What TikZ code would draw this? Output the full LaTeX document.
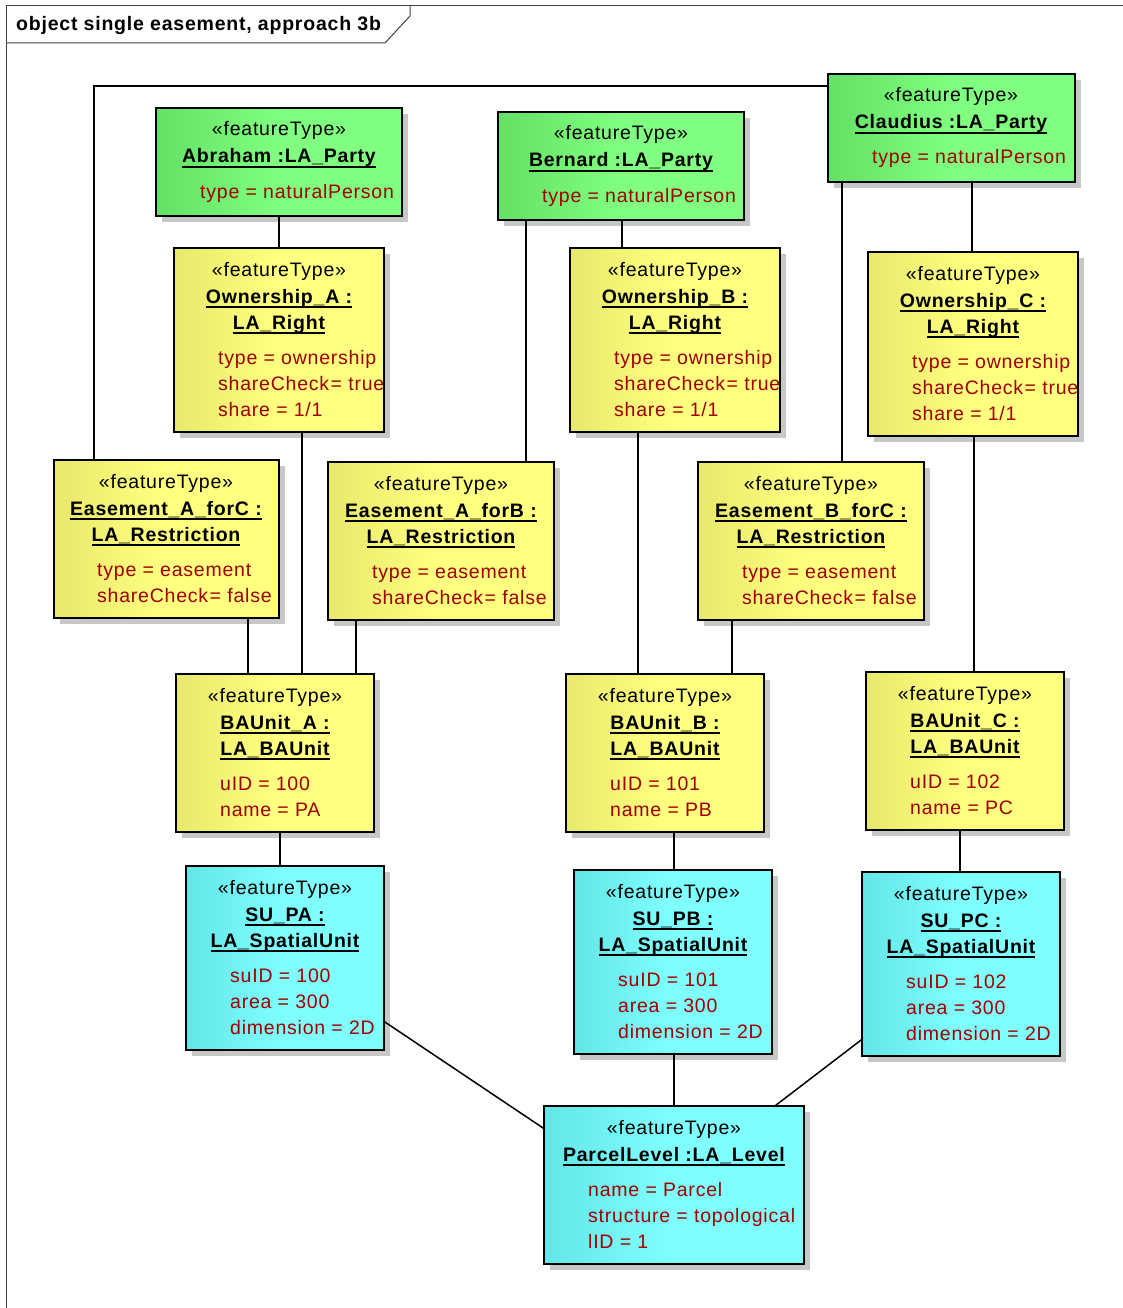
\documentclass[tikz,border=0pt]{standalone}
\usepackage{fontspec}
\setmainfont{Liberation Sans}[LetterSpace=4]
\usetikzlibrary{shadows}
\definecolor{attrred}{RGB}{160,0,0}
\definecolor{greenL}{RGB}{100,224,100}
\definecolor{greenR}{RGB}{128,255,128}
\definecolor{yellowL}{RGB}{232,232,108}
\definecolor{yellowR}{RGB}{255,255,128}
\definecolor{cyanL}{RGB}{100,230,230}
\definecolor{cyanR}{RGB}{128,255,255}
\newcommand\ulx[1]{\setbox0\hbox{#1}\rlap{\vrule height -3.2pt depth 5pt width \wd0}\box0}
\newcommand\sck{shareCheck\kern1.5pt=}
\newcommand\objbox[6]{\node[#2, minimum width={(#5)-(#3)}, minimum height={(#6)-(#4)}] (#1) at ({((#3)+(#5))/2},{((#4)+(#6))/2}) {};}
\tikzset{
 obj/.style={draw=black, line width=1.8pt, inner sep=0pt,
   drop shadow={shadow xshift=6pt, shadow yshift=-6pt, fill=black!22, opacity=1}},
 gobj/.style={obj, left color=greenL, right color=greenR, middle color=greenR},
 yobj/.style={obj, left color=yellowL, right color=yellowR, middle color=yellowR},
 cobj/.style={obj, left color=cyanL, right color=cyanR, middle color=cyanR},
 stereo/.style={anchor=base, inner sep=0pt, font=\fontsize{19.5}{23}\selectfont},
 oname/.style={anchor=base, inner sep=0pt, font=\fontsize{19.5}{23}\selectfont\bfseries},
 attr/.style={anchor=base west, inner sep=0pt, text=attrred, font=\fontsize{19.5}{23}\selectfont},
 conn/.style={line width=1.5pt, line cap=rect},
 frameline/.style={line width=1pt, draw=black!75}
}
\begin{document}
\begin{tikzpicture}[x=1pt, y=-1pt]
\useasboundingbox (0,0) rectangle (1123,1308);
% frame
\draw[frameline] (6,1308) -- (6,6) -- (1123,6);
\draw[frameline] (6,43) -- (385,43) -- (410,16) -- (410,6);
\node[anchor=base west, inner sep=0pt, font=\fontsize{19.5}{23}\selectfont\bfseries] (title) at (16,31) {object single easement, approach 3b};

% boxes
\objbox{abr}{gobj}{156}{108}{402}{216}
\node[stereo] (abr-s) at (279,136) {«featureType»};
\node[oname] (abr-n) at (279,163) {\ulx{Abraham :LA\_Party}};
\node[attr] (abr-a1) at (200,198) {type = naturalPerson};

\objbox{ber}{gobj}{498}{112}{744}{220}
\node[stereo] (ber-s) at (621,140) {«featureType»};
\node[oname] (ber-n) at (621,167) {\ulx{Bernard :LA\_Party}};
\node[attr] (ber-a1) at (542,202) {type = naturalPerson};

\objbox{cla}{gobj}{828}{74}{1075}{182}
\node[stereo] (cla-s) at (951,102) {«featureType»};
\node[oname] (cla-n) at (951,129) {\ulx{Claudius :LA\_Party}};
\node[attr] (cla-a1) at (872,164) {type = naturalPerson};

\objbox{owa}{yobj}{174}{248}{384}{432}
\node[stereo] (owa-s) at (279,276) {«featureType»};
\node[oname] (owa-n1) at (279,303) {\ulx{Ownership\_A :}};
\node[oname] (owa-n2) at (279,329) {\ulx{LA\_Right}};
\node[attr] (owa-a1) at (218,364) {type = ownership};
\node[attr] (owa-a2) at (218,390) {\sck{} true};
\node[attr] (owa-a3) at (218,416) {share = 1/1};

\objbox{owb}{yobj}{570}{248}{780}{432}
\node[stereo] (owb-s) at (675,276) {«featureType»};
\node[oname] (owb-n1) at (675,303) {\ulx{Ownership\_B :}};
\node[oname] (owb-n2) at (675,329) {\ulx{LA\_Right}};
\node[attr] (owb-a1) at (614,364) {type = ownership};
\node[attr] (owb-a2) at (614,390) {\sck{} true};
\node[attr] (owb-a3) at (614,416) {share = 1/1};

\objbox{owc}{yobj}{868}{252}{1078}{436}
\node[stereo] (owc-s) at (973,280) {«featureType»};
\node[oname] (owc-n1) at (973,307) {\ulx{Ownership\_C :}};
\node[oname] (owc-n2) at (973,333) {\ulx{LA\_Right}};
\node[attr] (owc-a1) at (912,368) {type = ownership};
\node[attr] (owc-a2) at (912,394) {\sck{} true};
\node[attr] (owc-a3) at (912,420) {share = 1/1};

\objbox{eac}{yobj}{54}{460}{279}{618}
\node[stereo] (eac-s) at (166,488) {«featureType»};
\node[oname] (eac-n1) at (166,515) {\ulx{Easement\_A\_forC :}};
\node[oname] (eac-n2) at (166,541) {\ulx{LA\_Restriction}};
\node[attr] (eac-a1) at (97,576) {type = easement};
\node[attr] (eac-a2) at (97,602) {\sck{} false};

\objbox{eab}{yobj}{328}{462}{554}{620}
\node[stereo] (eab-s) at (441,490) {«featureType»};
\node[oname] (eab-n1) at (441,517) {\ulx{Easement\_A\_forB :}};
\node[oname] (eab-n2) at (441,543) {\ulx{LA\_Restriction}};
\node[attr] (eab-a1) at (372,578) {type = easement};
\node[attr] (eab-a2) at (372,604) {\sck{} false};

\objbox{ebc}{yobj}{698}{462}{924}{620}
\node[stereo] (ebc-s) at (811,490) {«featureType»};
\node[oname] (ebc-n1) at (811,517) {\ulx{Easement\_B\_forC :}};
\node[oname] (ebc-n2) at (811,543) {\ulx{LA\_Restriction}};
\node[attr] (ebc-a1) at (742,578) {type = easement};
\node[attr] (ebc-a2) at (742,604) {\sck{} false};

\objbox{baua}{yobj}{176}{674}{374}{832}
\node[stereo] (baua-s) at (275,702) {«featureType»};
\node[oname] (baua-n1) at (275,729) {\ulx{BAUnit\_A :}};
\node[oname] (baua-n2) at (275,755) {\ulx{LA\_BAUnit}};
\node[attr] (baua-a1) at (220,790) {uID = 100};
\node[attr] (baua-a2) at (220,816) {name = PA};

\objbox{baub}{yobj}{566}{674}{764}{832}
\node[stereo] (baub-s) at (665,702) {«featureType»};
\node[oname] (baub-n1) at (665,729) {\ulx{BAUnit\_B :}};
\node[oname] (baub-n2) at (665,755) {\ulx{LA\_BAUnit}};
\node[attr] (baub-a1) at (610,790) {uID = 101};
\node[attr] (baub-a2) at (610,816) {name = PB};

\objbox{bauc}{yobj}{866}{672}{1064}{830}
\node[stereo] (bauc-s) at (965,700) {«featureType»};
\node[oname] (bauc-n1) at (965,727) {\ulx{BAUnit\_C :}};
\node[oname] (bauc-n2) at (965,753) {\ulx{LA\_BAUnit}};
\node[attr] (bauc-a1) at (910,788) {uID = 102};
\node[attr] (bauc-a2) at (910,814) {name = PC};

\objbox{supa}{cobj}{186}{866}{384}{1050}
\node[stereo] (supa-s) at (285,894) {«featureType»};
\node[oname] (supa-n1) at (285,921) {\ulx{SU\_PA :}};
\node[oname] (supa-n2) at (285,947) {\ulx{LA\_SpatialUnit}};
\node[attr] (supa-a1) at (230,982) {suID = 100};
\node[attr] (supa-a2) at (230,1008) {area = 300};
\node[attr] (supa-a3) at (230,1034) {dimension = 2D};

\objbox{supb}{cobj}{574}{870}{772}{1054}
\node[stereo] (supb-s) at (673,898) {«featureType»};
\node[oname] (supb-n1) at (673,925) {\ulx{SU\_PB :}};
\node[oname] (supb-n2) at (673,951) {\ulx{LA\_SpatialUnit}};
\node[attr] (supb-a1) at (618,986) {suID = 101};
\node[attr] (supb-a2) at (618,1012) {area = 300};
\node[attr] (supb-a3) at (618,1038) {dimension = 2D};

\objbox{supc}{cobj}{862}{872}{1060}{1056}
\node[stereo] (supc-s) at (961,900) {«featureType»};
\node[oname] (supc-n1) at (961,927) {\ulx{SU\_PC :}};
\node[oname] (supc-n2) at (961,953) {\ulx{LA\_SpatialUnit}};
\node[attr] (supc-a1) at (906,988) {suID = 102};
\node[attr] (supc-a2) at (906,1014) {area = 300};
\node[attr] (supc-a3) at (906,1040) {dimension = 2D};

\objbox{par}{cobj}{544}{1106}{804}{1264}
\node[stereo] (par-s) at (674,1134) {«featureType»};
\node[oname] (par-n) at (674,1161) {\ulx{ParcelLevel :LA\_Level}};
\node[attr] (par-a1) at (588,1196) {name = Parcel};
\node[attr] (par-a2) at (588,1222) {structure = topological};
\node[attr] (par-a3) at (588,1248) {lID = 1};

% connectors
\draw[conn] (abr.south) -- (owa.north);
\draw[conn] (622,0 |- ber.south) -- (622,0 |- owb.north);
\draw[conn] (972,0 |- cla.south) -- (972,0 |- owc.north);
\draw[conn] (302,0 |- owa.south) -- (302,0 |- baua.north);
\draw[conn] (638,0 |- owb.south) -- (638,0 |- baub.north);
\draw[conn] (974,0 |- owc.south) -- (974,0 |- bauc.north);
\draw[conn] (248,0 |- eac.south) -- (248,0 |- baua.north);
\draw[conn] (356,0 |- eab.south) -- (356,0 |- baua.north);
\draw[conn] (732,0 |- ebc.south) -- (732,0 |- baub.north);
\draw[conn] (94,0 |- eac.north) |- (cla.west |- 0,86);
\draw[conn] (526,0 |- eab.north) -- (526,0 |- ber.south);
\draw[conn] (842,0 |- ebc.north) -- (842,0 |- cla.south);
\draw[conn] (280,0 |- baua.south) -- (280,0 |- supa.north);
\draw[conn] (674,0 |- baub.south) -- (674,0 |- supb.north);
\draw[conn] (960,0 |- bauc.south) -- (960,0 |- supc.north);
\draw[conn] (supa.east |- 0,1022) -- (par.west |- 0,1128);
\draw[conn] (674,0 |- supb.south) -- (674,0 |- par.north);
\draw[conn] (supc.west |- 0,1040) -- (776,0 |- par.north);
\end{tikzpicture}
\end{document}
